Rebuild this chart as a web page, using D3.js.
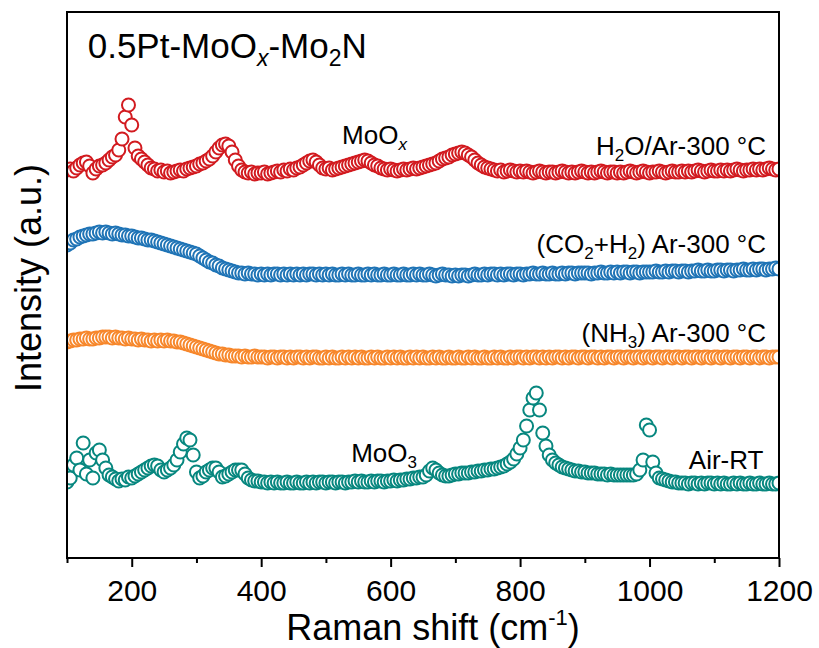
<!DOCTYPE html>
<html><head><meta charset="utf-8">
<script src="https://cdn.jsdelivr.net/npm/d3@7"></script>
<style>
body{margin:0;background:#fff}
svg{display:block}
text{font-family:"Liberation Sans",Arial,Helvetica,sans-serif;fill:#000}
</style>
</head><body>
<svg id="chart" width="819" height="648"></svg>
<script>
// Raman shift grid (cm-1)
const ramanShift = [
100,105,110,115,120,125,130,135,140,145,
150,155,160,165,170,175,180,185,190,195,
200,205,210,215,220,225,230,235,240,245,
250,255,260,265,270,275,280,285,290,295,
300,305,310,315,320,325,330,335,340,345,
350,355,360,365,370,375,380,385,390,395,
400,405,410,415,420,425,430,435,440,445,
450,455,460,465,470,475,480,485,490,495,
500,505,510,515,520,525,530,535,540,545,
550,555,560,565,570,575,580,585,590,595,
600,605,610,615,620,625,630,635,640,645,
650,655,660,665,670,675,680,685,690,695,
700,705,710,715,720,725,730,735,740,745,
750,755,760,765,770,775,780,785,790,795,
800,805,810,815,820,825,830,835,840,845,
850,855,860,865,870,875,880,885,890,895,
900,905,910,915,920,925,930,935,940,945,
950,955,960,965,970,975,980,985,990,995,
1000,1005,1010,1015,1020,1025,1030,1035,1040,1045,
1050,1055,1060,1065,1070,1075,1080,1085,1090,1095,
1100,1105,1110,1115,1120,1125,1130,1135,1140,1145,
1150,1155,1160,1165,1170,1175,1180,1185,1190,1195,
1200];

// Stacked intensities (a.u., offset for display)
const h2oAr = [
388,389,387,390,393,395,396,392,385,389,
392,393,395,398,401,403,408,419,441,453,
433,410,402,399,396,393,390,389,387,388,
386,387,385,386,387,388,387,389,390,391,
392,394,395,397,399,402,406,410,413,414,
412,406,398,392,388,386,385,386,384,385,
385,386,384,385,386,387,386,388,387,389,
388,390,391,393,395,397,398,396,393,390,
389,390,388,389,390,391,392,393,394,395,
396,397,398,397,395,393,392,390,389,388,
389,388,387,388,389,388,389,390,389,390,
391,392,393,394,395,397,399,400,401,403,
404,405,406,405,403,401,398,395,393,391,
390,389,388,387,388,386,387,388,387,386,
387,386,387,386,385,386,387,386,385,386,
386,385,386,387,386,385,386,385,386,387,
386,385,386,385,386,387,386,385,386,386,
385,386,385,386,387,386,385,386,387,386,
385,386,386,387,386,385,386,387,386,386,
387,386,387,386,387,388,387,386,387,388,
387,387,388,387,388,387,388,389,388,387,
388,388,389,388,389,388,389,390,389,388,
389];

const co2h2Ar = [
313,315,318,319,321,322,323,324,324,325,
326,325,326,325,324,325,324,323,323,322,
322,321,320,320,319,318,318,317,316,315,
314,313,312,311,310,309,308,307,306,305,
304,302,300,298,296,295,293,292,290,289,
288,287,286,285,285,284,285,284,284,283,
284,283,284,283,284,284,283,284,283,284,
283,284,283,284,283,284,284,283,284,283,
284,283,284,283,283,284,283,284,283,283,
284,283,283,284,283,284,283,283,284,283,
283,284,283,283,284,283,283,284,283,284,
283,283,284,283,282,283,284,283,283,282,
283,282,283,283,282,283,284,283,283,284,
283,284,284,283,284,283,284,284,283,284,
284,283,284,284,285,284,284,285,284,284,
285,284,284,285,284,285,285,284,285,285,
285,285,284,285,285,286,285,285,286,285,
286,285,286,286,285,286,286,285,286,286,
286,286,287,286,286,287,286,287,287,286,
287,287,286,287,287,288,287,287,288,287,
287,288,288,287,288,288,287,288,288,289,
288,288,289,288,289,289,288,289,289,290,
289];

const nh3Ar = [
216,217,218,218,219,219,220,219,219,220,
220,221,221,221,220,221,220,220,219,220,
219,219,218,219,218,218,217,218,217,218,
217,218,217,217,216,216,215,214,213,212,
211,210,209,208,207,206,205,204,204,203,
203,202,202,202,201,202,201,201,202,201,
201,201,200,201,201,200,201,201,200,201,
200,201,201,200,201,200,201,201,200,200,
201,200,201,200,200,201,200,201,200,201,
200,201,200,200,201,200,201,200,200,201,
200,201,200,201,200,200,201,200,201,200,
201,200,200,201,200,201,200,200,201,200,
200,201,200,200,201,200,201,200,200,201,
200,200,201,200,201,200,200,201,200,201,
201,200,201,200,201,201,200,201,200,201,
200,201,201,200,201,200,201,201,200,201,
201,200,201,201,200,201,200,201,201,200,
201,201,200,201,201,200,201,201,200,201,
201,200,201,201,200,201,201,200,201,201,
200,201,201,200,201,201,200,201,201,200,
201,201,200,201,201,200,201,201,200,201,
201,200,201,201,200,201,201,200,201,201,
201];

const airRT = [
76,80,93,100,88,115,84,98,80,105,
108,98,90,83,81,79,77,79,78,81,
80,82,84,86,88,90,92,93,92,88,
86,88,90,93,98,106,114,120,118,103,
86,80,82,86,88,90,90,86,81,82,
84,86,88,88,88,84,80,78,77,77,
76,76,75,76,75,76,75,75,76,75,
75,76,75,75,76,75,76,75,76,76,
75,76,76,75,76,76,75,76,76,77,
76,77,76,76,77,76,77,77,76,77,
77,78,77,78,78,79,79,80,80,81,
81,83,87,90,88,85,83,82,82,83,
84,84,85,85,85,86,86,87,87,88,
88,89,89,90,91,92,94,96,99,104,
110,118,132,148,160,165,148,125,112,103,
98,95,93,91,90,89,88,87,87,86,
86,85,85,85,84,84,84,83,84,83,
83,83,83,83,83,83,84,88,98,133,
128,96,85,80,79,78,77,76,76,75,
75,75,74,75,75,74,75,74,75,75,
74,75,74,75,74,74,75,74,75,74,
74,75,74,74,75,74,74,75,74,74,
75];

const seriesNames = ["H2O/Ar-300", "(CO2+H2) Ar-300", "(NH3) Ar-300", "Air-RT"];
const seriesValues = [h2oAr, co2h2Ar, nh3Ar, airRT];
const seriesColors = ["#d21a1f", "#1f74b6", "#f7872b", "#07877f"];

const xTicks = [100,200,300,400,500,600,700,800,900,1000,1100,1200];
const xTickLabels = ["","200","","400","","600","","800","","1000","","1200"];

// annotation texts: segments [text, kind]; kind: "" normal, "sub", "subi" italic subscript
const annText = [
  [["H",""],["2","sub"],["O/Ar-300 °C",""]],
  [["(CO",""],["2","sub"],["+H",""],["2","sub"],[") Ar-300 °C",""]],
  [["(NH",""],["3","sub"],[") Ar-300 °C",""]],
  [["Air-RT",""]],
  [["MoO",""],["x","subi"]],
  [["MoO",""],["3","sub"]]
];
const annAnchorW = [1180, 1180, 1180, 1176, 525, 539];
const annAnchorI = [403, 305, 216, 89, 414, 96];
const annAlign = ["end","end","end","end","start","start"];

// ---------- layout ----------
const svg = d3.select("#chart");
const L = 67, R = 779, T = 12, B = 558;
const x = d3.scaleLinear().domain([100, 1200]).range([L, R]);
const y = d3.scaleLinear().domain([0, 546]).range([B, T]);

svg.append("defs").append("clipPath").attr("id","plotClip")
  .append("rect").attr("x",L).attr("y",T).attr("width",R-L).attr("height",B-T);

const plot = svg.append("g").attr("clip-path","url(#plotClip)");
seriesValues.forEach((vals, k) => {
  plot.append("g").selectAll("circle")
    .data(vals.map((v,i)=>({w: ramanShift[i], v})))
    .join("circle")
    .attr("cx", d => x(d.w))
    .attr("cy", d => y(d.v))
    .attr("r", 6.5)
    .attr("fill", "#fff")
    .attr("stroke", seriesColors[k])
    .attr("stroke-width", 2);
});

// x axis
const ax = svg.append("g").attr("transform", `translate(0,${B})`)
  .call(d3.axisBottom(x).tickValues(xTicks).tickSize(9).tickPadding(13)
    .tickFormat((d,i) => xTickLabels[i]));
ax.select(".domain").remove();
ax.selectAll(".tick line").attr("stroke","#000").attr("stroke-width",2)
  .attr("y2", (d,i) => xTickLabels[i] === "" ? 5 : 9);
ax.selectAll(".tick text").attr("font-size", 30).attr("fill","#000")
  .style("font-family", '"Liberation Sans",Arial,sans-serif');

// frame
svg.append("rect").attr("x",L).attr("y",T).attr("width",R-L).attr("height",B-T)
  .attr("fill","none").attr("stroke","#000").attr("stroke-width",2);

// axis titles
const xt = svg.append("text").attr("x",433).attr("y",640).attr("text-anchor","middle").attr("font-size",36);
xt.append("tspan").text("Raman shift (cm");
xt.append("tspan").attr("font-size",22).attr("dy",-15).text("-1");
xt.append("tspan").attr("dy",15).text(")");

svg.append("text").attr("transform","translate(41,278) rotate(-90)")
  .attr("text-anchor","middle").attr("font-size",36).text("Intensity (a.u.)");

// title
const tt = svg.append("text").attr("x", x(132)).attr("y", y(500)).attr("font-size", 35);
tt.append("tspan").text("0.5Pt-MoO");
tt.append("tspan").attr("font-size",23).attr("font-style","italic").attr("dy",8).text("x");
tt.append("tspan").attr("dy",-8).text("-Mo");
tt.append("tspan").attr("font-size",23).attr("dy",8).text("2");
tt.append("tspan").attr("dy",-8).text("N");

// annotations
annText.forEach((segs, j) => {
  const t = svg.append("text").attr("x", x(annAnchorW[j])).attr("y", y(annAnchorI[j]))
    .attr("font-size", 26).attr("text-anchor", annAlign[j]);
  let shifted = false;
  segs.forEach(([s, kind]) => {
    const ts = t.append("tspan").text(s);
    if (kind === "sub" || kind === "subi") {
      ts.attr("font-size", 17).attr("dy", shifted ? 0 : 6);
      if (kind === "subi") ts.attr("font-style","italic");
      shifted = true;
    } else {
      if (shifted) ts.attr("dy", -6);
      shifted = false;
    }
  });
});
</script>
</body></html>
